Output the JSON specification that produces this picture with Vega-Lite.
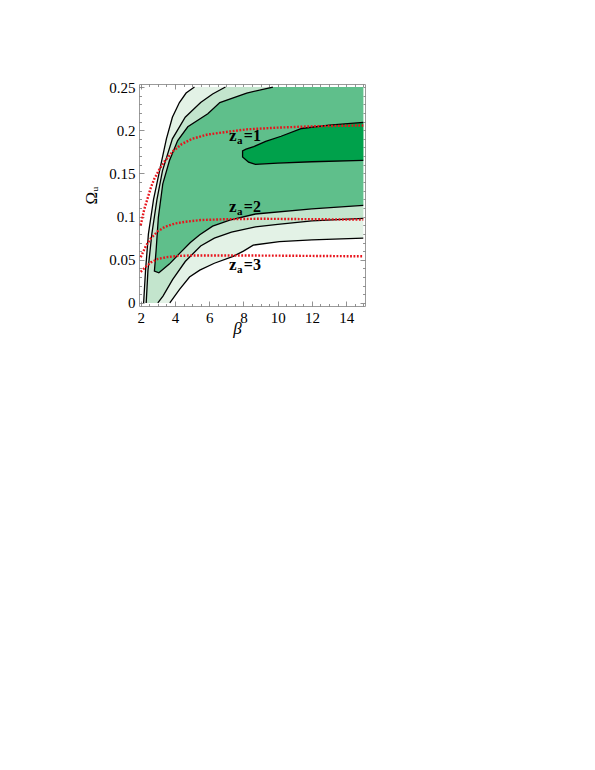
{
  "$schema": "https://vega.github.io/schema/vega-lite/v6.json",
  "width": 226,
  "height": 222,
  "autosize": "none",
  "padding": {"left": 139, "top": 84, "right": 230, "bottom": 464},
  "background": "white",
  "config": {
    "view": {"stroke": "#9a9a9a", "strokeWidth": 1},
    "axis": {
      "domain": false,
      "grid": false,
      "labelFont": "Liberation Serif",
      "labelFontSize": 15,
      "labelColor": "black",
      "tickColor": "#777777",
      "tickWidth": 0.8,
      "titleFont": "Liberation Serif",
      "titleFontSize": 17,
      "titleColor": "black",
      "titleFontWeight": "normal",
      "labelOverlap": false,
      "labelFlush": false
    }
  },
  "datasets": {
    "poly": [
      {"g": "p3", "i": 0, "b": 2.17, "o": 0},
      {"g": "p3", "i": 1, "b": 2.28, "o": 0.037},
      {"g": "p3", "i": 2, "b": 2.45, "o": 0.08},
      {"g": "p3", "i": 3, "b": 2.75, "o": 0.12},
      {"g": "p3", "i": 4, "b": 3.1, "o": 0.153},
      {"g": "p3", "i": 5, "b": 3.5, "o": 0.19},
      {"g": "p3", "i": 6, "b": 3.85, "o": 0.215},
      {"g": "p3", "i": 7, "b": 4.26, "o": 0.232},
      {"g": "p3", "i": 8, "b": 4.65, "o": 0.243},
      {"g": "p3", "i": 9, "b": 5.14, "o": 0.25},
      {"g": "p3", "i": 10, "b": 15, "o": 0.25},
      {"g": "p3", "i": 11, "b": 15, "o": 0.075},
      {"g": "p3", "i": 12, "b": 12, "o": 0.073},
      {"g": "p3", "i": 13, "b": 10.1, "o": 0.071},
      {"g": "p3", "i": 14, "b": 8.57, "o": 0.067},
      {"g": "p3", "i": 15, "b": 8.0, "o": 0.06},
      {"g": "p3", "i": 16, "b": 7.4, "o": 0.054},
      {"g": "p3", "i": 17, "b": 6.3, "o": 0.046},
      {"g": "p3", "i": 18, "b": 5.45, "o": 0.038},
      {"g": "p3", "i": 19, "b": 4.85, "o": 0.03},
      {"g": "p3", "i": 20, "b": 4.28, "o": 0.016},
      {"g": "p3", "i": 21, "b": 3.7, "o": 0},

      {"g": "p2", "i": 0, "b": 2.32, "o": 0},
      {"g": "p2", "i": 1, "b": 2.42, "o": 0.037},
      {"g": "p2", "i": 2, "b": 2.65, "o": 0.08},
      {"g": "p2", "i": 3, "b": 2.95, "o": 0.12},
      {"g": "p2", "i": 4, "b": 3.27, "o": 0.153},
      {"g": "p2", "i": 5, "b": 3.85, "o": 0.19},
      {"g": "p2", "i": 6, "b": 4.6, "o": 0.215},
      {"g": "p2", "i": 7, "b": 5.5, "o": 0.232},
      {"g": "p2", "i": 8, "b": 6.2, "o": 0.242},
      {"g": "p2", "i": 9, "b": 6.95, "o": 0.25},
      {"g": "p2", "i": 10, "b": 15, "o": 0.25},
      {"g": "p2", "i": 11, "b": 15, "o": 0.098},
      {"g": "p2", "i": 12, "b": 12, "o": 0.095},
      {"g": "p2", "i": 13, "b": 10, "o": 0.091},
      {"g": "p2", "i": 14, "b": 8.7, "o": 0.088},
      {"g": "p2", "i": 15, "b": 7.3, "o": 0.082},
      {"g": "p2", "i": 16, "b": 6.3, "o": 0.075},
      {"g": "p2", "i": 17, "b": 5.5, "o": 0.066},
      {"g": "p2", "i": 18, "b": 4.6, "o": 0.048},
      {"g": "p2", "i": 19, "b": 3.86, "o": 0.027},
      {"g": "p2", "i": 20, "b": 3.3, "o": 0.008},
      {"g": "p2", "i": 21, "b": 3.0, "o": 0},

      {"g": "p1", "i": 0, "b": 2.8, "o": 0.037},
      {"g": "p1", "i": 1, "b": 2.9, "o": 0.061},
      {"g": "p1", "i": 2, "b": 3.03, "o": 0.099},
      {"g": "p1", "i": 3, "b": 3.29, "o": 0.138},
      {"g": "p1", "i": 4, "b": 3.68, "o": 0.165},
      {"g": "p1", "i": 5, "b": 4.16, "o": 0.188},
      {"g": "p1", "i": 6, "b": 4.75, "o": 0.204},
      {"g": "p1", "i": 7, "b": 5.92, "o": 0.219},
      {"g": "p1", "i": 8, "b": 6.62, "o": 0.232},
      {"g": "p1", "i": 9, "b": 8.19, "o": 0.243},
      {"g": "p1", "i": 10, "b": 9.72, "o": 0.25},
      {"g": "p1", "i": 11, "b": 15, "o": 0.25},
      {"g": "p1", "i": 12, "b": 15, "o": 0.113},
      {"g": "p1", "i": 13, "b": 12, "o": 0.109},
      {"g": "p1", "i": 14, "b": 8.7, "o": 0.103},
      {"g": "p1", "i": 15, "b": 7.2, "o": 0.096},
      {"g": "p1", "i": 16, "b": 6.2, "o": 0.089},
      {"g": "p1", "i": 17, "b": 5.45, "o": 0.079},
      {"g": "p1", "i": 18, "b": 4.9, "o": 0.07},
      {"g": "p1", "i": 19, "b": 4.3, "o": 0.058},
      {"g": "p1", "i": 20, "b": 3.67, "o": 0.045},
      {"g": "p1", "i": 21, "b": 3.06, "o": 0.035},

      {"g": "p0", "i": 0, "b": 7.95, "o": 0.176},
      {"g": "p0", "i": 1, "b": 8.15, "o": 0.178},
      {"g": "p0", "i": 2, "b": 8.6, "o": 0.181},
      {"g": "p0", "i": 3, "b": 9.3, "o": 0.187},
      {"g": "p0", "i": 4, "b": 10.2, "o": 0.193},
      {"g": "p0", "i": 5, "b": 11.4, "o": 0.202},
      {"g": "p0", "i": 6, "b": 13, "o": 0.206},
      {"g": "p0", "i": 7, "b": 15, "o": 0.209},
      {"g": "p0", "i": 8, "b": 15, "o": 0.165},
      {"g": "p0", "i": 9, "b": 12, "o": 0.1635},
      {"g": "p0", "i": 10, "b": 10, "o": 0.162},
      {"g": "p0", "i": 11, "b": 8.7, "o": 0.1605},
      {"g": "p0", "i": 12, "b": 8.3, "o": 0.163},
      {"g": "p0", "i": 13, "b": 7.95, "o": 0.169}
    ],
    "lines": [
      {"c": "c3l", "i": 0, "b": 2.17, "o": 0},
      {"c": "c3l", "i": 1, "b": 2.28, "o": 0.037},
      {"c": "c3l", "i": 2, "b": 2.45, "o": 0.08},
      {"c": "c3l", "i": 3, "b": 2.75, "o": 0.12},
      {"c": "c3l", "i": 4, "b": 3.1, "o": 0.153},
      {"c": "c3l", "i": 5, "b": 3.5, "o": 0.19},
      {"c": "c3l", "i": 6, "b": 3.85, "o": 0.215},
      {"c": "c3l", "i": 7, "b": 4.26, "o": 0.232},
      {"c": "c3l", "i": 8, "b": 4.65, "o": 0.243},
      {"c": "c3l", "i": 9, "b": 5.14, "o": 0.25},

      {"c": "c3b", "i": 0, "b": 3.7, "o": 0},
      {"c": "c3b", "i": 1, "b": 4.28, "o": 0.016},
      {"c": "c3b", "i": 2, "b": 4.85, "o": 0.03},
      {"c": "c3b", "i": 3, "b": 5.45, "o": 0.038},
      {"c": "c3b", "i": 4, "b": 6.3, "o": 0.046},
      {"c": "c3b", "i": 5, "b": 7.4, "o": 0.054},
      {"c": "c3b", "i": 6, "b": 8.0, "o": 0.06},
      {"c": "c3b", "i": 7, "b": 8.57, "o": 0.067},
      {"c": "c3b", "i": 8, "b": 10.1, "o": 0.071},
      {"c": "c3b", "i": 9, "b": 12, "o": 0.073},
      {"c": "c3b", "i": 10, "b": 15, "o": 0.075},

      {"c": "c2l", "i": 0, "b": 2.32, "o": 0},
      {"c": "c2l", "i": 1, "b": 2.42, "o": 0.037},
      {"c": "c2l", "i": 2, "b": 2.65, "o": 0.08},
      {"c": "c2l", "i": 3, "b": 2.95, "o": 0.12},
      {"c": "c2l", "i": 4, "b": 3.27, "o": 0.153},
      {"c": "c2l", "i": 5, "b": 3.85, "o": 0.19},
      {"c": "c2l", "i": 6, "b": 4.6, "o": 0.215},
      {"c": "c2l", "i": 7, "b": 5.5, "o": 0.232},
      {"c": "c2l", "i": 8, "b": 6.2, "o": 0.242},
      {"c": "c2l", "i": 9, "b": 6.95, "o": 0.25},

      {"c": "c2b", "i": 0, "b": 3.0, "o": 0},
      {"c": "c2b", "i": 1, "b": 3.3, "o": 0.008},
      {"c": "c2b", "i": 2, "b": 3.86, "o": 0.027},
      {"c": "c2b", "i": 3, "b": 4.6, "o": 0.048},
      {"c": "c2b", "i": 4, "b": 5.5, "o": 0.066},
      {"c": "c2b", "i": 5, "b": 6.3, "o": 0.075},
      {"c": "c2b", "i": 6, "b": 7.3, "o": 0.082},
      {"c": "c2b", "i": 7, "b": 8.7, "o": 0.088},
      {"c": "c2b", "i": 8, "b": 10, "o": 0.091},
      {"c": "c2b", "i": 9, "b": 12, "o": 0.095},
      {"c": "c2b", "i": 10, "b": 15, "o": 0.098},

      {"c": "c1", "i": 0, "b": 9.72, "o": 0.25},
      {"c": "c1", "i": 1, "b": 8.19, "o": 0.243},
      {"c": "c1", "i": 2, "b": 6.62, "o": 0.232},
      {"c": "c1", "i": 3, "b": 5.92, "o": 0.219},
      {"c": "c1", "i": 4, "b": 4.75, "o": 0.204},
      {"c": "c1", "i": 5, "b": 4.16, "o": 0.188},
      {"c": "c1", "i": 6, "b": 3.68, "o": 0.165},
      {"c": "c1", "i": 7, "b": 3.29, "o": 0.138},
      {"c": "c1", "i": 8, "b": 3.03, "o": 0.099},
      {"c": "c1", "i": 9, "b": 2.9, "o": 0.061},
      {"c": "c1", "i": 10, "b": 2.8, "o": 0.037},
      {"c": "c1", "i": 11, "b": 3.06, "o": 0.035},
      {"c": "c1", "i": 12, "b": 3.67, "o": 0.045},
      {"c": "c1", "i": 13, "b": 4.3, "o": 0.058},
      {"c": "c1", "i": 14, "b": 4.9, "o": 0.07},
      {"c": "c1", "i": 15, "b": 5.45, "o": 0.079},
      {"c": "c1", "i": 16, "b": 6.2, "o": 0.089},
      {"c": "c1", "i": 17, "b": 7.2, "o": 0.096},
      {"c": "c1", "i": 18, "b": 8.7, "o": 0.103},
      {"c": "c1", "i": 19, "b": 12, "o": 0.109},
      {"c": "c1", "i": 20, "b": 15, "o": 0.113},

      {"c": "c0", "i": 0, "b": 15, "o": 0.209},
      {"c": "c0", "i": 1, "b": 13, "o": 0.206},
      {"c": "c0", "i": 2, "b": 11.4, "o": 0.202},
      {"c": "c0", "i": 3, "b": 10.2, "o": 0.193},
      {"c": "c0", "i": 4, "b": 9.3, "o": 0.187},
      {"c": "c0", "i": 5, "b": 8.6, "o": 0.181},
      {"c": "c0", "i": 6, "b": 8.15, "o": 0.178},
      {"c": "c0", "i": 7, "b": 7.95, "o": 0.176},
      {"c": "c0", "i": 8, "b": 7.95, "o": 0.169},
      {"c": "c0", "i": 9, "b": 8.3, "o": 0.163},
      {"c": "c0", "i": 10, "b": 8.7, "o": 0.1605},
      {"c": "c0", "i": 11, "b": 10, "o": 0.162},
      {"c": "c0", "i": 12, "b": 12, "o": 0.1635},
      {"c": "c0", "i": 13, "b": 15, "o": 0.165}
    ],
    "red": [
      {"z": 1, "b": 2.0, "o": 0.09},
      {"z": 1, "b": 2.2, "o": 0.108},
      {"z": 1, "b": 2.4, "o": 0.121},
      {"z": 1, "b": 2.6, "o": 0.134},
      {"z": 1, "b": 2.8, "o": 0.144},
      {"z": 1, "b": 3.1, "o": 0.155},
      {"z": 1, "b": 3.4, "o": 0.164},
      {"z": 1, "b": 3.9, "o": 0.176},
      {"z": 1, "b": 4.4, "o": 0.184},
      {"z": 1, "b": 5.0, "o": 0.19},
      {"z": 1, "b": 5.9, "o": 0.195},
      {"z": 1, "b": 7.0, "o": 0.198},
      {"z": 1, "b": 8.2, "o": 0.201},
      {"z": 1, "b": 10, "o": 0.203},
      {"z": 1, "b": 12, "o": 0.2045},
      {"z": 1, "b": 15, "o": 0.2055},
      {"z": 2, "b": 2.0, "o": 0.053},
      {"z": 2, "b": 2.3, "o": 0.066},
      {"z": 2, "b": 2.6, "o": 0.075},
      {"z": 2, "b": 3.0, "o": 0.083},
      {"z": 2, "b": 3.4, "o": 0.088},
      {"z": 2, "b": 4.0, "o": 0.092},
      {"z": 2, "b": 4.6, "o": 0.094},
      {"z": 2, "b": 5.5, "o": 0.096},
      {"z": 2, "b": 7, "o": 0.097},
      {"z": 2, "b": 9, "o": 0.0975},
      {"z": 2, "b": 12, "o": 0.097},
      {"z": 2, "b": 15, "o": 0.0965},
      {"z": 3, "b": 2.0, "o": 0.036},
      {"z": 3, "b": 2.3, "o": 0.042},
      {"z": 3, "b": 2.6, "o": 0.047},
      {"z": 3, "b": 3.0, "o": 0.051},
      {"z": 3, "b": 3.5, "o": 0.053},
      {"z": 3, "b": 4.2, "o": 0.0545},
      {"z": 3, "b": 5, "o": 0.055},
      {"z": 3, "b": 7, "o": 0.055},
      {"z": 3, "b": 10, "o": 0.0548},
      {"z": 3, "b": 15, "o": 0.054}
    ],
    "labels": [
      {"t": "=1", "b": 8.02, "o": 0.186},
      {"t": "=2", "b": 8.02, "o": 0.104},
      {"t": "=3", "b": 8.02, "o": 0.0365}
    ]
  },
  "resolve": {"axis": {"x": "independent", "y": "independent"}},
  "layer": [
    {
      "data": {"name": "poly"},
      "transform": [{"filter": "datum.g === 'p3'"}],
      "mark": {"type": "line", "fill": "#e3f2e6", "strokeWidth": 0, "clip": true},
      "encoding": {
        "x": {"field": "b", "type": "quantitative", "scale": {"domain": [1.9, 15.1], "nice": false, "zero": false},
          "axis": {"orient": "bottom", "title": "β", "titleFontStyle": "italic", "titleX": 98, "titleY": 27, "titleAlign": "center", "titleBaseline": "alphabetic",
            "values": [2,2.5,3,3.5,4,4.5,5,5.5,6,6.5,7,7.5,8,8.5,9,9.5,10,10.5,11,11.5,12,12.5,13,13.5,14,14.5,15],
            "labelExpr": "abs(datum.value/2 - round(datum.value/2)) < 0.01 ? format(datum.value, 'd') : ''",
            "tickSize": {"condition": {"test": "abs(datum.value/2 - round(datum.value/2)) < 0.01", "value": -5}, "value": -2.5},
            "labelPadding": 9}},
        "y": {"field": "o", "type": "quantitative", "scale": {"domain": [-0.0035, 0.2535], "nice": false, "zero": false},
          "axis": {"orient": "left", "title": "Ωᵤ", "titlePadding": 8,
            "values": [0,0.01,0.02,0.03,0.04,0.05,0.06,0.07,0.08,0.09,0.1,0.11,0.12,0.13,0.14,0.15,0.16,0.17,0.18,0.19,0.2,0.21,0.22,0.23,0.24,0.25],
            "labelExpr": "abs(datum.value*20 - round(datum.value*20)) < 0.001 ? format(datum.value, '~g') : ''",
            "tickSize": {"condition": {"test": "abs(datum.value*20 - round(datum.value*20)) < 0.001", "value": -5}, "value": -2.5},
            "labelPadding": 9}},
        "order": {"field": "i", "type": "quantitative"}
      }
    },
    {
      "data": {"name": "poly"},
      "transform": [{"filter": "datum.g === 'p2'"}],
      "mark": {"type": "line", "fill": "#c3e5cd", "strokeWidth": 0, "clip": true},
      "encoding": {
        "x": {"field": "b", "type": "quantitative",
          "axis": {"orient": "top", "title": null, "labels": false,
            "values": [2,2.5,3,3.5,4,4.5,5,5.5,6,6.5,7,7.5,8,8.5,9,9.5,10,10.5,11,11.5,12,12.5,13,13.5,14,14.5,15],
            "tickSize": {"condition": {"test": "abs(datum.value/2 - round(datum.value/2)) < 0.01", "value": -5}, "value": -2.5}}},
        "y": {"field": "o", "type": "quantitative",
          "axis": {"orient": "right", "title": null, "labels": false,
            "values": [0,0.01,0.02,0.03,0.04,0.05,0.06,0.07,0.08,0.09,0.1,0.11,0.12,0.13,0.14,0.15,0.16,0.17,0.18,0.19,0.2,0.21,0.22,0.23,0.24,0.25],
            "tickSize": {"condition": {"test": "abs(datum.value*20 - round(datum.value*20)) < 0.001", "value": -5}, "value": -2.5}}},
        "order": {"field": "i", "type": "quantitative"}
      }
    },
    {
      "data": {"name": "poly"},
      "transform": [{"filter": "datum.g === 'p1'"}],
      "mark": {"type": "line", "fill": "#5fbf8b", "strokeWidth": 0, "clip": true},
      "encoding": {
        "x": {"field": "b", "type": "quantitative", "axis": null},
        "y": {"field": "o", "type": "quantitative", "axis": null},
        "order": {"field": "i", "type": "quantitative"}
      }
    },
    {
      "data": {"name": "poly"},
      "transform": [{"filter": "datum.g === 'p0'"}],
      "mark": {"type": "line", "fill": "#00a14b", "strokeWidth": 0, "clip": true},
      "encoding": {
        "x": {"field": "b", "type": "quantitative", "axis": null},
        "y": {"field": "o", "type": "quantitative", "axis": null},
        "order": {"field": "i", "type": "quantitative"}
      }
    },
    {
      "data": {"name": "lines"},
      "mark": {"type": "line", "color": "black", "strokeWidth": 1.3, "clip": true},
      "encoding": {
        "x": {"field": "b", "type": "quantitative", "axis": null},
        "y": {"field": "o", "type": "quantitative", "axis": null},
        "detail": {"field": "c", "type": "nominal"},
        "order": {"field": "i", "type": "quantitative"}
      }
    },
    {
      "data": {"name": "red"},
      "mark": {"type": "line", "color": "#e8141c", "strokeWidth": 2.4, "strokeDash": [1.8, 1.6], "clip": true},
      "encoding": {
        "x": {"field": "b", "type": "quantitative", "axis": null},
        "y": {"field": "o", "type": "quantitative", "axis": null},
        "detail": {"field": "z", "type": "nominal"}
      }
    },
    {
      "data": {"name": "labels"},
      "mark": {"type": "text", "font": "Liberation Serif", "fontWeight": "bold", "fontSize": 17, "align": "center", "baseline": "alphabetic", "color": "black", "dx": -11, "dy": -1, "text": "z"},
      "encoding": {
        "x": {"field": "b", "type": "quantitative", "axis": null},
        "y": {"field": "o", "type": "quantitative", "axis": null}
      }
    },
    {
      "data": {"name": "labels"},
      "mark": {"type": "text", "font": "Liberation Serif", "fontWeight": "bold", "fontSize": 11, "align": "center", "baseline": "alphabetic", "color": "black", "dx": -4, "dy": 2, "text": "a"},
      "encoding": {
        "x": {"field": "b", "type": "quantitative", "axis": null},
        "y": {"field": "o", "type": "quantitative", "axis": null}
      }
    },
    {
      "data": {"name": "labels"},
      "mark": {"type": "text", "font": "Liberation Serif", "fontWeight": "bold", "fontSize": 16, "align": "left", "baseline": "alphabetic", "color": "black", "dx": 0, "dy": -1},
      "encoding": {
        "x": {"field": "b", "type": "quantitative", "axis": null},
        "y": {"field": "o", "type": "quantitative", "axis": null},
        "text": {"field": "t"}
      }
    }
  ]
}
